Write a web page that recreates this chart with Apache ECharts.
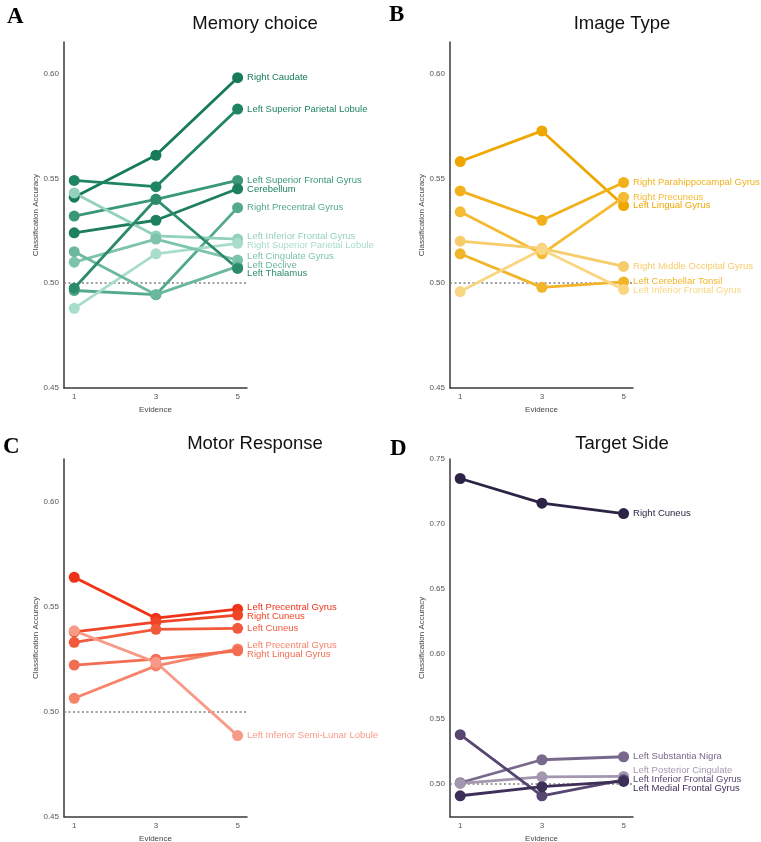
<!DOCTYPE html>
<html>
<head>
<meta charset="utf-8">
<script src="https://cdn.jsdelivr.net/npm/echarts@6/dist/echarts.min.js"></script>
<style>
html,body{margin:0;padding:0;background:#ffffff;}
.p{position:absolute;}
</style>
</head>
<body>
<div id="pA" class="p" style="left:0;top:0;width:380px;height:421px"></div>
<div id="pB" class="p" style="left:380px;top:0;width:381px;height:421px"></div>
<div id="pC" class="p" style="left:0;top:421px;width:380px;height:421px"></div>
<div id="pD" class="p" style="left:380px;top:421px;width:381px;height:421px"></div>
<script>
// ---------------- DATA ----------------
const evidence = [1, 3, 5];
const evidenceTicks = [1, 3, 5];
const chanceLevel = 0.5;

// Panel A: Memory choice
const memoryTitle = 'Memory choice';
const memoryRegions = ['Right Caudate', 'Left Superior Parietal Lobule', 'Left Superior Frontal Gyrus', 'Cerebellum',
  'Right Precentral Gyrus', 'Left Inferior Frontal Gyrus', 'Right Superior Parietal Lobule', 'Left Cingulate Gyrus',
  'Left Declive', 'Left Thalamus'];
const memoryValues = [
  [0.541, 0.561, 0.598],
  [0.549, 0.546, 0.583],
  [0.532, 0.540, 0.549],
  [0.524, 0.530, 0.545],
  [0.4965, 0.4945, 0.536],
  [0.543, 0.5225, 0.521],
  [0.488, 0.514, 0.519],
  [0.510, 0.521, 0.511],
  [0.515, 0.4945, 0.508],
  [0.4976, 0.540, 0.507]
];
const memoryTicks = [0.45, 0.50, 0.55, 0.60];

// Panel B: Image Type
const imageTitle = 'Image Type';
const imageRegions = ['Left Lingual Gyrus', 'Right Parahippocampal Gyrus', 'Right Precuneus', 'Right Middle Occipital Gyrus',
  'Left Cerebellar Tonsil', 'Left Inferior Frontal Gyrus'];
const imageValues = [
  [0.558, 0.5726, 0.537],
  [0.544, 0.530, 0.548],
  [0.534, 0.514, 0.541],
  [0.520, 0.5166, 0.508],
  [0.514, 0.498, 0.5006],
  [0.496, 0.516, 0.497]
];
const imageTicks = [0.45, 0.50, 0.55, 0.60];

// Panel C: Motor Response
const motorTitle = 'Motor Response';
const motorRegions = ['Left Precentral Gyrus', 'Right Cuneus', 'Left Cuneus', 'Left Precentral Gyrus',
  'Right Lingual Gyrus', 'Left Inferior Semi-Lunar Lobule'];
const motorValues = [
  [0.564, 0.5445, 0.5488],
  [0.538, 0.5426, 0.546],
  [0.533, 0.5392, 0.5397],
  [0.5064, 0.5218, 0.5299],
  [0.5222, 0.525, 0.529],
  [0.5385, 0.5235, 0.4886]
];
const motorTicks = [0.45, 0.50, 0.55, 0.60];

// Panel D: Target Side
const targetTitle = 'Target Side';
const targetRegions = ['Right Cuneus', 'Left Substantia Nigra', 'Left Posterior Cingulate', 'Left Inferior Frontal Gyrus',
  'Left Medial Frontal Gyrus'];
const targetValues = [
  [0.735, 0.716, 0.708],
  [0.501, 0.5187, 0.521],
  [0.5005, 0.5056, 0.5059],
  [0.538, 0.491, 0.5033],
  [0.491, 0.498, 0.502]
];
const targetTicks = [0.50, 0.55, 0.60, 0.65, 0.70, 0.75];

// ---------------- STYLE ----------------
const memoryColors = ['#177a5a', '#1f8463', '#3a977a', '#1d7f5f', '#52a98b', '#93d1bb', '#a8dccb', '#7dc4aa', '#6bb89c', '#2b8b6b'];
const imageColors = ['#efa700', '#f2b11a', '#f4bb33', '#f7cc6a', '#f2b52a', '#f9d682'];
const motorColors = ['#ee3418', '#f04526', '#f25a3c', '#f5846a', '#f36d52', '#f89a88'];
const targetColors = ['#2d2346', '#77688c', '#a397b0', '#564670', '#3e2f58'];

const SANS = '"Liberation Sans", Arial, Helvetica, sans-serif';
const SERIF = '"Liberation Serif", "Times New Roman", Times, serif';

function resolveLabels(ys, gap) {
  const order = ys.map((y, i) => i).sort((a, b) => ys[a] - ys[b]);
  let clusters = order.map(i => ({ members: [i], center: ys[i] }));
  let changed = true;
  while (changed) {
    changed = false;
    for (let k = 0; k < clusters.length - 1; k++) {
      const a = clusters[k], b = clusters[k + 1];
      const aBottom = a.center + (a.members.length - 1) * gap / 2;
      const bTop = b.center - (b.members.length - 1) * gap / 2;
      if (bTop - aBottom < gap) {
        const members = a.members.concat(b.members);
        const center = members.reduce((s, i) => s + ys[i], 0) / members.length;
        clusters.splice(k, 2, { members: members, center: center });
        changed = true;
        break;
      }
    }
  }
  const out = [];
  clusters.forEach(c => {
    const n = c.members.length;
    c.members.forEach((i, j) => { out[i] = c.center + (j - (n - 1) / 2) * gap; });
  });
  return out;
}

function buildPanel(cfg) {
  const chart = echarts.init(document.getElementById(cfg.el), null, { renderer: 'canvas' });
  function makeSeries(offsets) {
    return cfg.values.map((vals, i) => {
      const last = vals.length - 1;
      const data = vals.map((v, j) => {
        if (j !== last) return [evidence[j], v];
        return {
          value: [evidence[j], v],
          label: {
            show: true, position: 'right', distance: 4,
            offset: [0, offsets ? offsets[i] : 0],
            formatter: cfg.regions[i],
            color: cfg.colors[i], fontSize: 9.5, fontFamily: SANS
          }
        };
      });
      const s = {
        type: 'line', name: cfg.regions[i] + ' ' + i, data: data,
        symbol: 'circle', symbolSize: 11, showSymbol: true,
        lineStyle: { width: 2.8, color: cfg.colors[i] },
        itemStyle: { color: cfg.colors[i] },
        label: { show: false },
        emphasis: { disabled: true },
        animation: false, z: 3
      };
      if (i === 0) {
        s.markLine = {
          silent: true, symbol: ['none', 'none'], animation: false,
          data: [{ yAxis: chanceLevel }],
          lineStyle: { type: [2, 2.5], color: '#808080', width: 1.5 },
          label: { show: false }, z: 1
        };
      }
      return s;
    });
  }
  const option = {
    animation: false,
    backgroundColor: '#ffffff',
    graphic: [
      { type: 'text', x: cfg.letterX, y: cfg.letterY,
        style: { text: cfg.letter, fill: '#000', font: 'bold 23px ' + SERIF,
                 textAlign: 'left', textVerticalAlign: 'middle', align: 'left', verticalAlign: 'middle' } },
      { type: 'text', x: cfg.titleX, y: cfg.titleY,
        style: { text: cfg.title, fill: '#111', font: '18.5px ' + SANS,
                 textAlign: 'center', textVerticalAlign: 'middle', align: 'center', verticalAlign: 'middle' } }
    ],
    grid: { left: cfg.grid[0], top: cfg.grid[1], width: cfg.grid[2], height: cfg.grid[3],
            containLabel: false, outerBoundsMode: 'none' },
    xAxis: {
      type: 'value', min: 0.75, max: 5.23,
      axisLine: { show: true, onZero: false, lineStyle: { color: '#3a3a3a', width: 1.5 } },
      axisTick: { show: false }, splitLine: { show: false },
      axisLabel: { customValues: evidenceTicks, fontSize: 8, color: '#555', margin: 5, fontFamily: SANS },
      name: 'Evidence', nameLocation: 'middle', nameGap: 14,
      nameTextStyle: { fontSize: 8, color: '#444', fontFamily: SANS }
    },
    yAxis: {
      type: 'value', min: cfg.yMin, max: cfg.yMax,
      axisLine: { show: true, onZero: false, lineStyle: { color: '#3a3a3a', width: 1.5 } },
      axisTick: { show: false }, splitLine: { show: false },
      axisLabel: { customValues: cfg.ticks, formatter: v => v.toFixed(2), fontSize: 8, color: '#555', margin: 5, fontFamily: SANS },
      name: 'Classification Accuracy', nameLocation: 'middle', nameGap: 23, nameRotate: 90,
      nameTextStyle: { fontSize: 8, color: '#444', fontFamily: SANS }
    },
    series: makeSeries(null)
  };
  chart.setOption(option);
  const ys = cfg.values.map((vals, i) => chart.convertToPixel({ seriesIndex: i }, [evidence[vals.length - 1], vals[vals.length - 1]])[1]);
  const newYs = resolveLabels(ys, 8.7);
  const offsets = ys.map((y, i) => newYs[i] - y);
  chart.setOption({ series: makeSeries(offsets) });
}

buildPanel({ el: 'pA', letter: 'A', letterX: 7, letterY: 17, title: memoryTitle, titleX: 255, titleY: 24,
  grid: [64, 42, 183, 346], yMin: 0.45, yMax: 0.615, ticks: memoryTicks,
  regions: memoryRegions, values: memoryValues, colors: memoryColors });
buildPanel({ el: 'pB', letter: 'B', letterX: 9, letterY: 15, title: imageTitle, titleX: 242, titleY: 24,
  grid: [70, 42, 183, 346], yMin: 0.45, yMax: 0.615, ticks: imageTicks,
  regions: imageRegions, values: imageValues, colors: imageColors });
buildPanel({ el: 'pC', letter: 'C', letterX: 3, letterY: 26, title: motorTitle, titleX: 255, titleY: 23,
  grid: [64, 38, 183, 357.7], yMin: 0.45, yMax: 0.6203, ticks: motorTicks,
  regions: motorRegions, values: motorValues, colors: motorColors });
buildPanel({ el: 'pD', letter: 'D', letterX: 10, letterY: 28, title: targetTitle, titleX: 242, titleY: 23,
  grid: [70, 38, 183, 357.7], yMin: 0.4749, yMax: 0.75, ticks: targetTicks,
  regions: targetRegions, values: targetValues, colors: targetColors });
</script>
</body>
</html>
